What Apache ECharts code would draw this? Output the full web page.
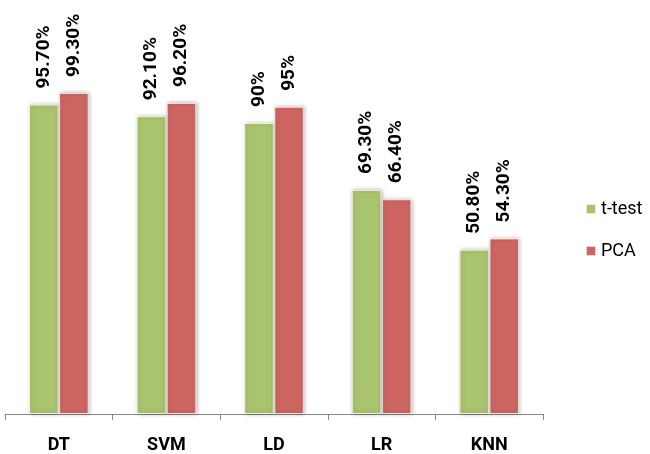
<!DOCTYPE html>
<html>
<head>
<meta charset="utf-8">
<script src="https://cdn.jsdelivr.net/npm/echarts@6/dist/echarts.min.js"></script>
<style>
  html, body { margin: 0; padding: 0; background: #fff; }
  #chart { width: 650px; height: 454px; }
</style>
</head>
<body>
<div id="chart"></div>
<script>
// Classifier accuracy (%) for two feature-selection approaches
const categories = ['DT', 'SVM', 'LD', 'LR', 'KNN'];
const tTestValues = [95.7, 92.1, 90, 69.3, 50.8];
const pcaValues = [99.3, 96.2, 95, 66.4, 54.3];
const seriesNames = ['t-test', 'PCA'];

const FONT = 'Roboto, "Open Sans", sans-serif';

function pct(v) {
  return Number.isInteger(v) ? v + '%' : v.toFixed(2) + '%';
}

function barSeries(name, data, color) {
  return {
    name: name,
    type: 'bar',
    data: data,
    barWidth: 29.5,
    barGap: '2%',
    itemStyle: {
      color: color,
      borderColor: 'rgba(255,255,255,0.7)',
      borderWidth: 1,
      shadowColor: 'rgba(0,0,0,0.28)',
      shadowBlur: 4,
      shadowOffsetX: 1
    },
    label: {
      show: true,
      position: 'top',
      rotate: 90,
      align: 'left',
      verticalAlign: 'middle',
      distance: 16,
      formatter: p => pct(p.value),
      color: '#000',
      fontFamily: FONT,
      fontWeight: 'bold',
      fontSize: 19
    }
  };
}

const chart = echarts.init(document.getElementById('chart'));
chart.setOption({
  animation: false,
  backgroundColor: '#fff',
  grid: { left: 5, right: 107, top: 26, bottom: 39 },
  legend: {
    orient: 'vertical',
    left: 585,
    top: 199,
    padding: 0,
    itemWidth: 10,
    itemHeight: 10,
    itemGap: 22,
    icon: 'rect',
    textStyle: {
      fontFamily: FONT,
      fontSize: 18,
      color: '#000',
      lineHeight: 20,
      padding: [0, 0, 0, 0]
    },
    data: seriesNames
  },
  xAxis: {
    type: 'category',
    data: categories,
    axisLine: { lineStyle: { color: '#888', width: 1 } },
    axisTick: { show: true, length: 6, lineStyle: { color: '#888' } },
    axisLabel: {
      margin: 22,
      color: '#000',
      fontFamily: FONT,
      fontWeight: 'bold',
      fontSize: 18
    }
  },
  yAxis: {
    type: 'value',
    min: 0,
    max: 120,
    show: false
  },
  series: [
    barSeries(seriesNames[0], tTestValues, '#a9c46c'),
    barSeries(seriesNames[1], pcaValues, '#cd6561')
  ]
});
</script>
</body>
</html>
